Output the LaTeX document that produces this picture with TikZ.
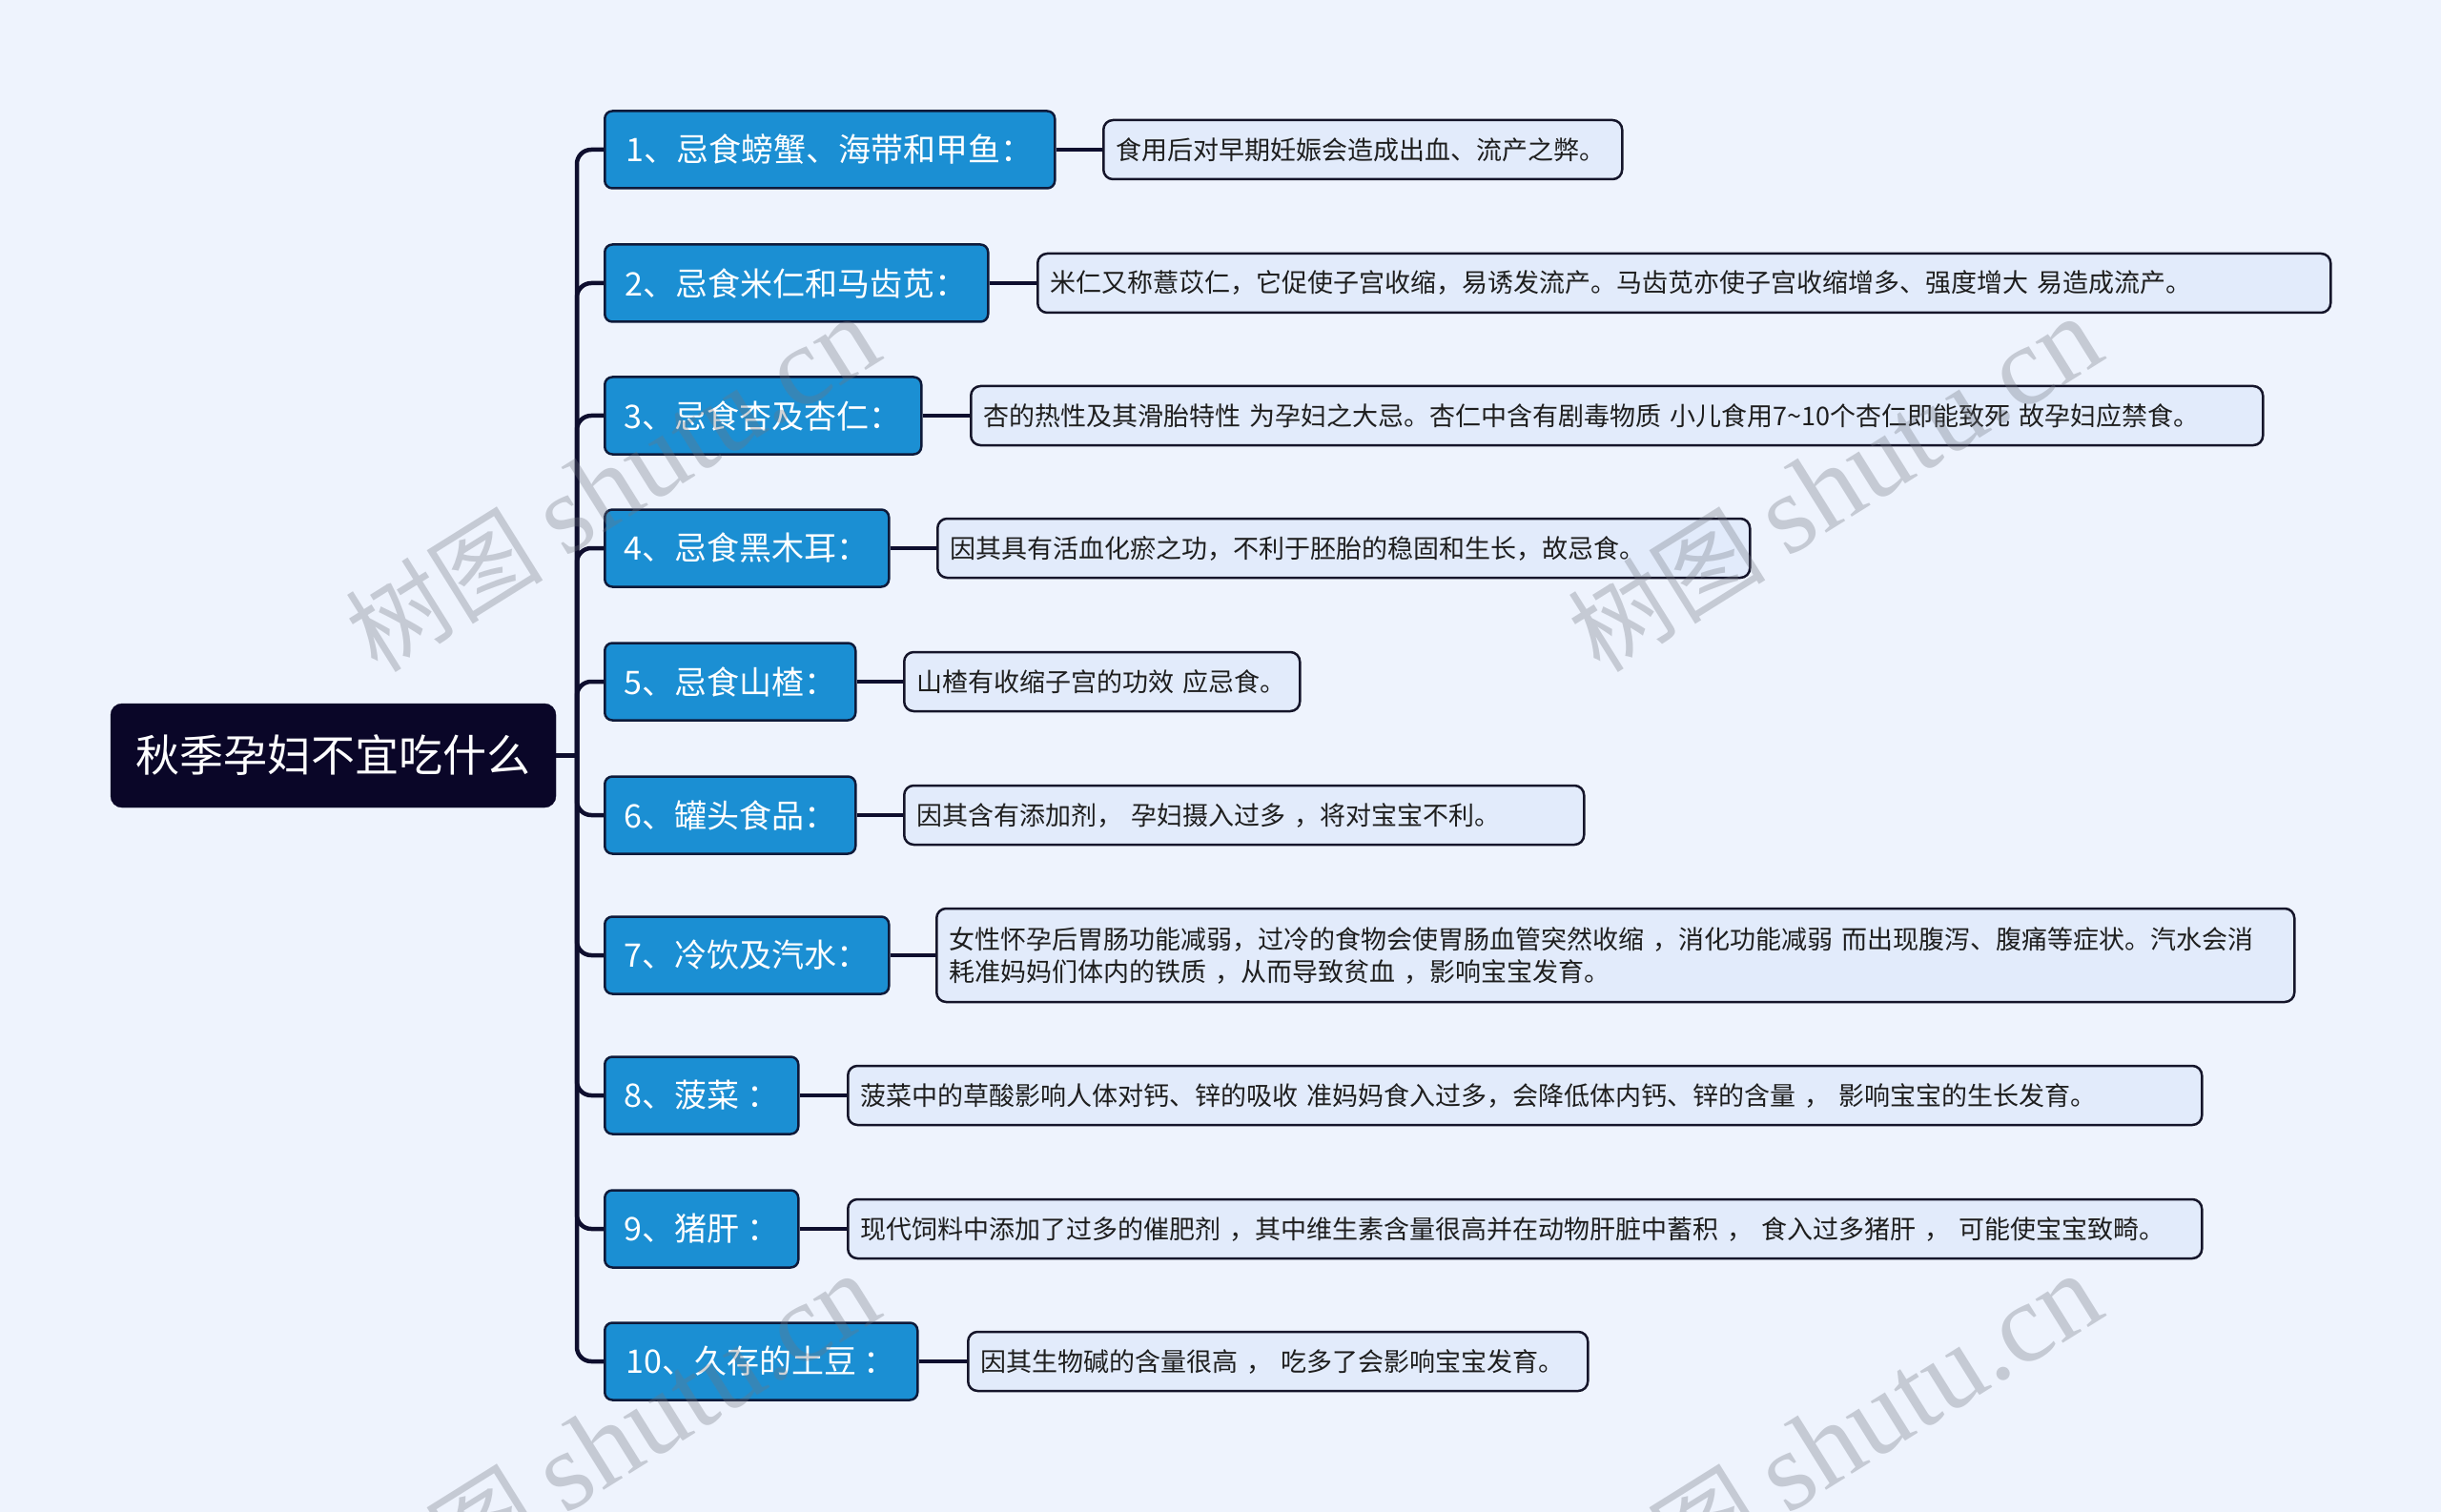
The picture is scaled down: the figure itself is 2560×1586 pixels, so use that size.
\documentclass[tikz,border=0pt]{standalone}
\usepackage{fontspec}
\setmainfont{Noto Sans CJK SC}
\newfontfamily\wmlatin{Liberation Serif}
\definecolor{bg}{HTML}{EEF3FD}
\definecolor{cline}{HTML}{0E0E2E}
\definecolor{rootfill}{HTML}{0A0628}
\definecolor{bfill}{HTML}{1B8FD3}
\definecolor{bborder}{HTML}{0E1A3A}
\definecolor{dfill}{HTML}{E2EBFB}
\definecolor{dborder}{HTML}{15152A}
\definecolor{dtext}{HTML}{1E1E1E}
\definecolor{wm}{HTML}{70757F}
\begin{document}
\begin{tikzpicture}[x=1pt,y=-1pt,
  conn/.style={line width=4.5pt, draw=cline},
  branch/.style={conn, rounded corners=15pt},
  rootbox/.style={draw=rootfill, fill=rootfill, rounded corners=12pt, text=white,
    font=\fontsize{46}{52}\selectfont, minimum width=467pt, minimum height=109pt, inner sep=0pt},
  topic/.style={draw=bborder, line width=2.5pt, fill=bfill, rounded corners=8pt, text=white,
    font=\fontsize{34}{40}\selectfont, minimum height=81pt, inner sep=0pt, anchor=west},
  detail/.style={draw=dborder, line width=2.5pt, fill=dfill, rounded corners=10pt, text=dtext,
    font=\fontsize{27}{34}\selectfont, minimum height=62pt, inner xsep=13pt, inner ysep=4pt,
    align=left, anchor=west},
  watermark/.style={text=wm, opacity=0.32, rotate=32, inner sep=0pt}
]
\useasboundingbox (0,0) rectangle (2560,1586);
\fill[bg] (0,0) rectangle (2560,1586);

% root
\node[rootbox] (root) at (349.5,792.5) {秋季孕妇不宜吃什么};

% topics
\node[topic, minimum width=472pt] (b1)  at (633,157)  {1、忌食螃蟹、海带和甲鱼：};
\node[topic, minimum width=402pt] (b2)  at (633,297)  {2、忌食米仁和马齿苋：};
\node[topic, minimum width=332pt] (b3)  at (633,436)  {3、忌食杏及杏仁：};
\node[topic, minimum width=298pt] (b4)  at (633,575)  {4、忌食黑木耳：};
\node[topic, minimum width=263pt] (b5)  at (633,715)  {5、忌食山楂：};
\node[topic, minimum width=263pt] (b6)  at (633,855)  {6、罐头食品：};
\node[topic, minimum width=298pt] (b7)  at (633,1002) {7、冷饮及汽水：};
\node[topic, minimum width=203pt] (b8)  at (633,1149) {8、菠菜 ：};
\node[topic, minimum width=203pt] (b9)  at (633,1289) {9、猪肝 ：};
\node[topic, minimum width=328pt] (b10) at (633,1428) {10、久存的土豆 ：};

% details
\node[detail, text width=518pt]  (d1)  at (1156,157)  {食用后对早期妊娠会造成出血、流产之弊。};
\node[detail, text width=1330pt] (d2)  at (1087,297)  {米仁又称薏苡仁，它促使子宫收缩，易诱发流产。马齿苋亦使子宫收缩增多、强度增大 易造成流产。};
\node[detail, text width=1329pt] (d3)  at (1017,436)  {杏的热性及其滑胎特性 为孕妇之大忌。杏仁中含有剧毒物质 小儿食用7\textasciitilde10个杏仁即能致死 故孕妇应禁食。};
\node[detail, text width=826pt]  (d4)  at (982,575)   {因其具有活血化瘀之功，不利于胚胎的稳固和生长，故忌食。};
\node[detail, text width=389pt]  (d5)  at (947,715)   {山楂有收缩子宫的功效 应忌食。};
\node[detail, text width=687pt]  (d6)  at (947,855)   {因其含有添加剂， 孕妇摄入过多 ，将对宝宝不利。};
\node[detail, text width=1398pt, minimum height=98pt] (d7) at (981,1002)
  {女性怀孕后胃肠功能减弱，过冷的食物会使胃肠血管突然收缩 ，消化功能减弱 而出现腹泻、腹痛等症状。汽水会消\\耗准妈妈们体内的铁质 ，从而导致贫血 ，影响宝宝发育。};
\node[detail, text width=1394pt] (d8)  at (888,1149)  {菠菜中的草酸影响人体对钙、锌的吸收 准妈妈食入过多，会降低体内钙、锌的含量 ， 影响宝宝的生长发育。};
\node[detail, text width=1394pt] (d9)  at (888,1289)  {现代饲料中添加了过多的催肥剂 ，其中维生素含量很高并在动物肝脏中蓄积 ， 食入过多猪肝 ， 可能使宝宝致畸。};
\node[detail, text width=624pt]  (d10) at (1014,1428) {因其生物碱的含量很高 ， 吃多了会影响宝宝发育。};

% connectors
\coordinate (hub) at (605,792.5);
\draw[conn] (root.east) -- (hub);
\foreach \i in {1,...,10} {
  \draw[branch] (hub) |- (b\i.west);
  \draw[conn] (b\i.east) -- (d\i.west);
}

% watermarks
\foreach \wx/\wy in {642/508, 1924/508, 642/1512, 1924/1512} {
  \node[watermark] at (\wx,\wy) {\fontsize{104}{104}\selectfont 树图 {\wmlatin\fontsize{118}{118}\selectfont shutu.cn}};
}
\end{tikzpicture}
\end{document}
